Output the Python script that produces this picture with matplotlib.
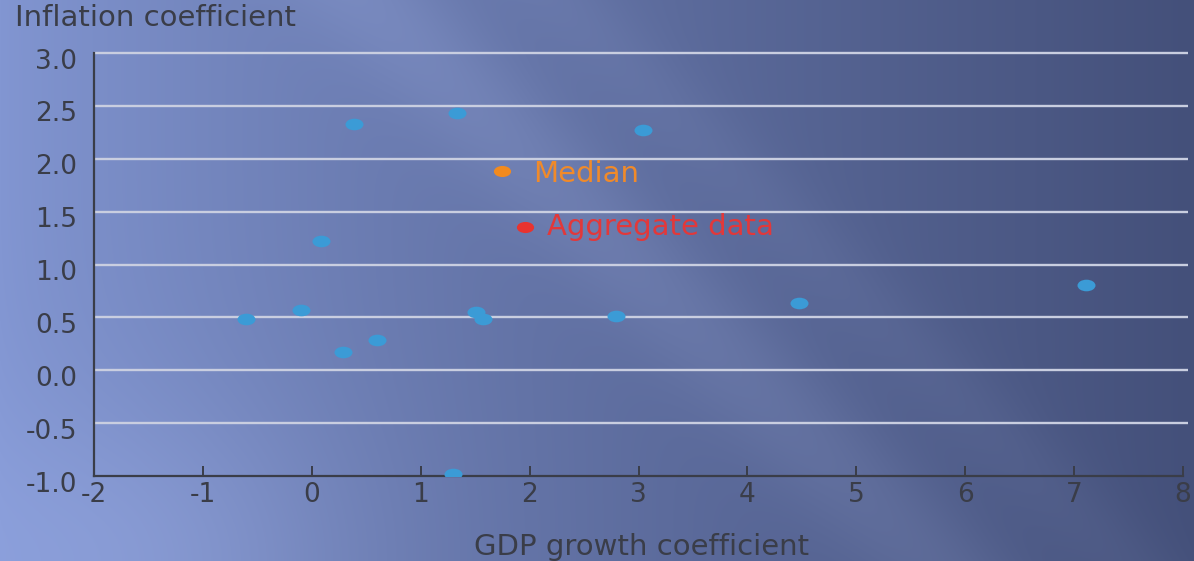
import numpy as np
import matplotlib.pyplot as plt
from matplotlib.markers import MarkerStyle
from matplotlib.transforms import Affine2D, ScaledTranslation

plt.rcParams['font.family'] = ['DejaVu Sans']
plt.rcParams['axes.unicode_minus'] = False

# country coefficients
gdp_coef = [-0.60, -0.10, 0.29, 0.60, 0.08, 0.39, 1.33, 1.51, 1.57, 1.30, 2.79, 3.04, 4.47, 7.11]
infl_coef = [0.48, 0.57, 0.17, 0.29, 1.22, 2.33, 2.43, 0.55, 0.48, -0.98, 0.51, 2.27, 0.64, 0.81]

median_pt = (1.75, 1.88)
aggregate_pt = (1.96, 1.35)

x_ticks = [-2, -1, 0, 1, 2, 3, 4, 5, 6, 7, 8]
y_ticks = [-1.0, -0.5, 0.0, 0.5, 1.0, 1.5, 2.0, 2.5, 3.0]

W, H = 1194, 561
fig = plt.figure(figsize=(W / 100, H / 100), dpi=100)

# slide-style blue background: light on the left, dark on the right,
# with a soft diagonal highlight
px, py = np.meshgrid(np.arange(W), np.arange(H))
t = (px / (W - 1)) ** 0.85
light = np.array([130, 150, 210]) / 255
dark = np.array([68, 80, 122]) / 255
bg = light[None, None, :] + (dark - light)[None, None, :] * t[..., None]
u = py - 1.0 * px
band = 0.05 * np.exp(-((u + 370) / 85) ** 2) + 0.025 * np.exp(-((u + 560) / 60) ** 2)
glow = 0.06 * np.exp(-(((px - 150) / 220) ** 2 + ((py - 561) / 160) ** 2))
bg = np.clip(bg + (band + glow)[..., None], 0, 1)

bg_ax = fig.add_axes([0, 0, 1, 1], zorder=0)
bg_ax.imshow(bg, aspect='auto', extent=[0, 1, 0, 1], origin='upper')
bg_ax.axis('off')

ax = fig.add_axes([94 / W, 1 - 476 / H, (1183 - 94) / W, (476 - 53) / H], zorder=1)
ax.set_facecolor('none')

ink = '#3a3d48'
grid_col = '#c9cee0'

ax.hlines(y_ticks[1:], -2, 8.05, color=grid_col, lw=1.7, zorder=1, clip_on=False)

dot = MarkerStyle('o', transform=Affine2D().scale(1.55, 1.0))
ax.scatter(gdp_coef, infl_coef, s=70, marker=dot, color='#3b9bd6', lw=0, zorder=3)
ax.scatter([median_pt[0]], [median_pt[1]], s=64, marker=dot, color='#f28a1e', lw=0, zorder=3)
ax.scatter([aggregate_pt[0]], [aggregate_pt[1]], s=64, marker=dot, color='#e8332f', lw=0, zorder=3)

ax.annotate('Median', median_pt, xytext=(22, -2), textcoords='offset points',
            color='#f08a2a', fontsize=21, va='center', ha='left')
ax.annotate('Aggregate data', aggregate_pt, xytext=(16, 0), textcoords='offset points',
            color='#e2383a', fontsize=21, va='center', ha='left')

ax.set_xlim(-2, 8)
ax.set_ylim(-1, 3)
ax.set_xticks(x_ticks)
ax.set_yticks(y_ticks)
ax.set_xticklabels([str(v) for v in x_ticks])
ax.set_yticklabels([f'{v:.1f}' for v in y_ticks])

for side in ('top', 'right'):
    ax.spines[side].set_visible(False)
for side in ('left', 'bottom'):
    ax.spines[side].set_color(ink)
    ax.spines[side].set_linewidth(1.6)

ax.tick_params(axis='x', direction='in', length=7, width=1.4, color=ink,
               labelcolor=ink, labelsize=19, pad=4)
ax.tick_params(axis='y', length=0, labelcolor=ink, labelsize=19, pad=12)
shift = ScaledTranslation(0, -4 / 72, fig.dpi_scale_trans)
for lab in ax.get_yticklabels():
    lab.set_transform(lab.get_transform() + shift)

fig.text(15 / W, 1 - 18 / H, 'Inflation coefficient', color=ink, fontsize=21,
         ha='left', va='center')
fig.text(642 / W, 1 - 547 / H, 'GDP growth coefficient', color=ink, fontsize=21,
         ha='center', va='center')

fig.savefig('out.png', dpi=100)
